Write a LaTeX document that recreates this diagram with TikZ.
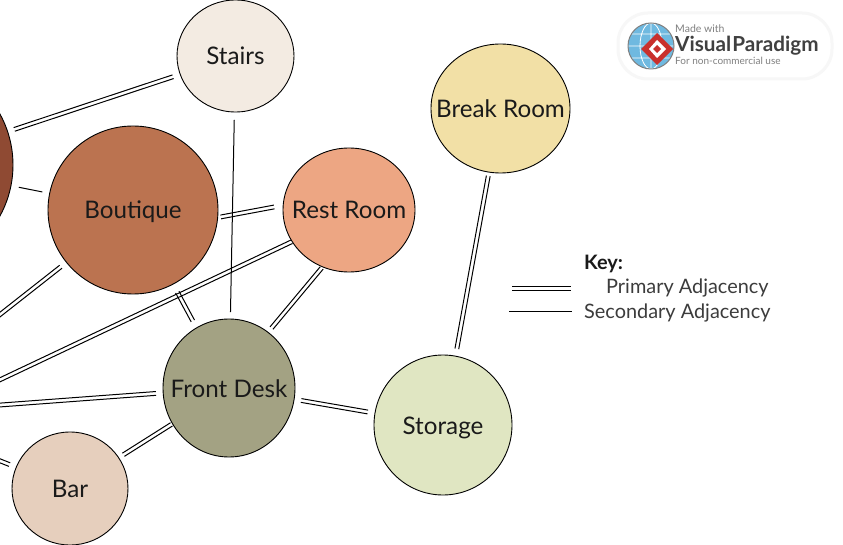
\documentclass[tikz,border=0pt]{standalone}
\usepackage{fontspec}
\setmainfont{Lato}
\usetikzlibrary{calc,shapes.geometric}
\definecolor{ink}{HTML}{1A1A1A}
\definecolor{cdark}{HTML}{8F4A33}
\definecolor{cstairs}{HTML}{F3EBE2}
\definecolor{cbreak}{HTML}{F2E0A6}
\definecolor{cbout}{HTML}{BB7350}
\definecolor{crest}{HTML}{EDA683}
\definecolor{cfront}{HTML}{A3A283}
\definecolor{cstor}{HTML}{E0E6C2}
\definecolor{cbar}{HTML}{E6CFBD}
\definecolor{lgblue}{HTML}{6FB9E0}
\definecolor{lgred}{HTML}{C9302C}
\tikzset{
  room/.style={ellipse,draw=black,line width=0.9pt,inner sep=0pt,text=ink,text height=18pt,text depth=0pt,font=\fontsize{24.2}{26}\selectfont},
  conn/.style={draw=black,line width=1pt},
  keytext/.style={anchor=base west,inner sep=0pt,text=ink!85,font=\fontsize{19.9}{24}\selectfont},
  logotext/.style={anchor=base west,inner sep=0pt,text=black!50}
}
\newcommand{\rl}[1]{\makebox[0pt]{#1}}
\newcommand{\primconn}[4]{%
  \draw[conn,shorten <=#3pt,shorten >=#4pt] ($(#1)!1.9pt!90:(#2)$) -- ($(#2)!1.9pt!-90:(#1)$);
  \draw[conn,shorten <=#3pt,shorten >=#4pt] ($(#1)!1.9pt!-90:(#2)$) -- ($(#2)!1.9pt!90:(#1)$);
}
\newcommand{\secconn}[4]{%
  \draw[conn,shorten <=#3pt,shorten >=#4pt] ($(#1)$) -- ($(#2)$);
}
\begin{document}
\begin{tikzpicture}[x=1pt,y=-1pt]
\useasboundingbox (0,0) rectangle (843,545);
\clip (0,0) rectangle (843,545);
\fill[white] (0,0) rectangle (843,545);
% rooms
\node[room,fill=cdark,minimum width=212pt,minimum height=212pt] (dark) at (-93,165) {};
\node[room,fill=cstairs,minimum width=117pt,minimum height=112pt] (stairs) at (235.5,56) {\rl{Stairs}};
\node[room,fill=cbreak,minimum width=139pt,minimum height=129pt] (break) at (500.5,108.5) {\rl{Break Room}};
\node[room,fill=cbout,minimum width=170pt,minimum height=168pt] (boutique) at (133,210) {\rl{Boutique}};
\node[room,fill=crest,minimum width=132pt,minimum height=124pt] (rest) at (349,210) {\rl{Rest Room}};
\node[room,fill=cfront,minimum width=132pt,minimum height=138pt] (front) at (229,388) {\rl{Front Desk}};
\node[room,fill=cstor,minimum width=138pt,minimum height=140pt] (storage) at (443,425) {\rl{Storage}};
\node[room,fill=cbar,minimum width=116pt,minimum height=113pt] (bar) at (70,488.5) {\rl{Bar}};
% free ends, beyond the left edge
\coordinate (offA) at (-40,346);
\coordinate (offB) at (-40,398.7);
\coordinate (offC) at (-40,408);
\coordinate (offD) at (-40,445);
% connectors
\primconn{stairs}{dark}{65.8}{113}
\secconn{dark}{boutique}{114}{92.4}
\primconn{boutique}{offA}{91.8}{0}
\primconn{rest.209.5}{offB}{0}{0}
\primconn{boutique}{front}{93.3}{76.2}
\primconn{boutique.-5}{rest.176.7}{2.7}{8.7}
\secconn{stairs}{front}{64}{76}
\primconn{rest.245.6}{front.55.3}{1}{5}
\primconn{front}{offC}{73.2}{0}
\primconn{bar}{offD}{65}{0}
\primconn{bar}{front}{63.2}{68}
\primconn{front}{storage}{73.2}{76.3}
\primconn{break}{storage}{68.5}{77.4}
% key
\coordinate (kpa) at (512,288.4);
\coordinate (kpb) at (571,288.4);
\coordinate (ksa) at (509,311);
\coordinate (ksb) at (572,311);
\primconn{kpa}{kpb}{0}{0}
\secconn{ksa}{ksb}{0}{0}
\node[keytext,text=ink,font=\fontsize{19.9}{24}\bfseries\selectfont] (keyt) at (584,270) {Key:};
\node[keytext] (keyp) at (606,294) {Primary Adjacency};
\node[keytext] (keys) at (584,318) {Secondary Adjacency};
% badge
\draw[line width=3pt,draw=black!3,fill=white,rounded corners=30pt] (618,13) rectangle (832,79);
\fill[lgblue] (651,46) circle (23);
\draw[white,line width=0.8pt] (651,23) -- (651,69) (628,46) -- (674,46) (651,46) ellipse (11 and 23) (632,34) -- (670,34) (632,58) -- (670,58);
\draw[black!50,line width=1pt] (651,46) circle (23);
\fill[lgred] (657,33) -- (673,49) -- (657,65) -- (641,49) -- cycle;
\fill[white] (657,40) -- (666,49) -- (657,58) -- (649,49) -- cycle;
\fill[lgred] (657,45) -- (661,49) -- (657,53) -- (653,49) -- cycle;
\node[logotext,font=\fontsize{10.5}{12}\selectfont] (lg1) at (675,33) {Made with};
\node[logotext,text=black!75,font=\fontsize{20.7}{22}\bfseries\selectfont] (lg2) at (675,51.5) {Visual\kern1pt Paradigm};
\node[logotext,font=\fontsize{10}{12}\selectfont] (lg3) at (675,65) {For non-commercial use};
\end{tikzpicture}
\end{document}
